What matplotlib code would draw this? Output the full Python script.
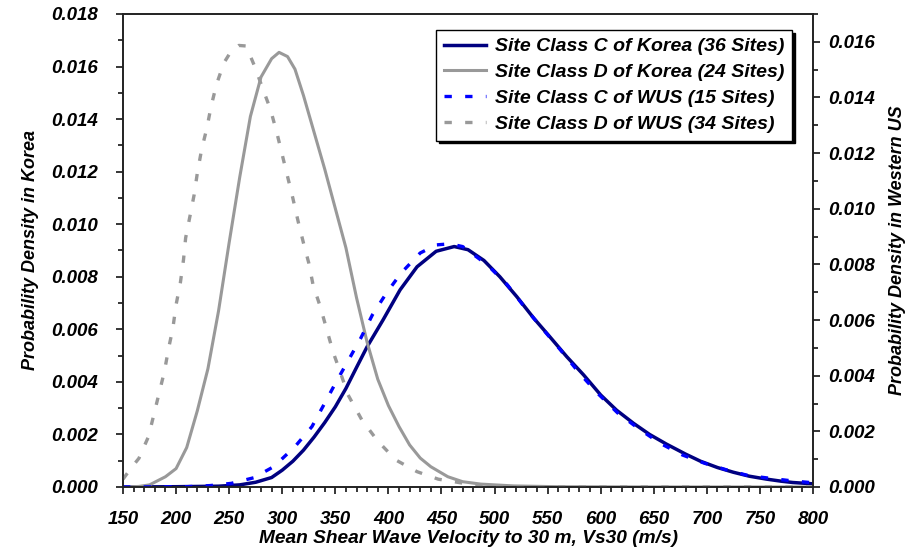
import numpy as np
import matplotlib
matplotlib.use("Agg")
import matplotlib.pyplot as plt
from matplotlib.ticker import MultipleLocator, FormatStrFormatter

# Site class C of Korea (36 sites), left axis
vs_kc = [150, 200, 240, 260, 275, 290, 300, 310, 320, 330, 340, 350, 360, 370,
         380, 395, 411, 427, 445, 462, 475, 490, 505, 521, 537, 552, 568, 584,
         600, 615, 631, 646, 662, 680, 694, 710, 725, 740, 756, 770, 781, 800]
pd_kc = [0.0, 0.00001, 0.00003, 0.00008, 0.00018, 0.00036, 0.00064, 0.00098,
         0.0014, 0.0019, 0.00245, 0.00305, 0.00375, 0.00455, 0.00534, 0.00636,
         0.0075, 0.00838, 0.00897, 0.00915, 0.00903, 0.00862, 0.0080, 0.00724,
         0.00642, 0.00572, 0.00496, 0.00426, 0.0035, 0.00292, 0.00242, 0.002,
         0.00163, 0.00125, 0.00098, 0.00074, 0.00056, 0.00041, 0.0003,
         0.00022, 0.00017, 0.00012]

# Site class D of Korea (24 sites), left axis
vs_kd = [150, 165, 175, 190, 200, 210, 220, 230, 240, 250, 260, 270, 280, 290,
         297, 305, 312, 320, 330, 340, 350, 360, 370, 380, 390, 400, 410, 420,
         430, 440, 456, 470, 487, 518, 560, 650, 800]
pd_kd = [0.0, 0.00002, 0.00008, 0.00039, 0.0007, 0.0015, 0.0029, 0.0045,
         0.0067, 0.0093, 0.0118, 0.0141, 0.0156, 0.0163, 0.01654, 0.01638,
         0.0159, 0.0149, 0.0135, 0.0121, 0.0106, 0.0091, 0.0072, 0.0055,
         0.0041, 0.0031, 0.0023, 0.0016, 0.0011, 0.00077, 0.00039, 0.0002,
         0.00011, 0.00004, 0.00001, 0.0, 0.0]

# Site class C of WUS (15 sites), right axis
vs_wc = [150, 210, 232, 252, 273, 292, 312, 328, 340, 351, 363, 374, 385, 398,
         412, 430, 445, 458, 470, 493, 512, 529, 546, 562, 580, 597, 616, 636,
         656, 677, 698, 719, 739, 760, 780, 800]
pd_wc = [0.0, 0.00001, 0.00005, 0.00013, 0.00033, 0.00073, 0.00145, 0.00217,
         0.00301, 0.00379, 0.0046, 0.00535, 0.00619, 0.00696, 0.00769,
         0.00841, 0.0087, 0.00874, 0.00864, 0.00799, 0.00727, 0.00643,
         0.00565, 0.00493, 0.00409, 0.00337, 0.00266, 0.00209, 0.00157,
         0.00115, 0.00085, 0.00061, 0.00041, 0.00031, 0.00022, 0.00015]

# Site class D of WUS (34 sites), right axis
vs_wd = [150, 158, 165, 174, 179, 184, 189, 193, 197, 200, 204, 207, 209, 213,
         217, 220, 224, 229, 233, 238, 245, 252, 259, 266, 274, 282, 289, 295,
         300, 305, 310, 315, 320, 325, 329, 336, 342, 348, 355, 362, 375, 390,
         407, 427, 447, 468, 489, 520, 600, 800]
pd_wd = [0.00028, 0.0007, 0.00103, 0.00181, 0.00259, 0.00337, 0.00415,
         0.00499, 0.00571, 0.00655, 0.00733, 0.00817, 0.00895, 0.00972, 0.0105,
         0.01128, 0.01212, 0.0129, 0.01368, 0.01446, 0.01524, 0.01567, 0.01587,
         0.01585, 0.01512, 0.01428, 0.01356, 0.01272, 0.01194, 0.01116,
         0.01038, 0.00954, 0.00877, 0.00805, 0.00727, 0.00646, 0.00565,
         0.00484, 0.00409, 0.00331, 0.00241, 0.00165, 0.00097, 0.00055,
         0.00028, 0.00015, 0.00005, 0.00001, 0.0, 0.0]

labels = ["Site Class C of Korea (36 Sites)", "Site Class D of Korea (24 Sites)",
          "Site Class C of WUS (15 Sites)", "Site Class D of WUS (34 Sites)"]

plt.rcParams['font.family'] = ['Liberation Sans', 'DejaVu Sans']
plt.rcParams['font.weight'] = 'bold'
plt.rcParams['font.style'] = 'italic'
plt.rcParams['axes.labelweight'] = 'bold'

fig = plt.figure(figsize=(9.2, 5.51), dpi=100)
ax = fig.add_axes([0.1337, 0.1162, 0.75, 0.8584])
ax2 = ax.twinx()

dash = (0, (2.2, 4))
l1, = ax.plot(vs_kc, pd_kc, color='#000080', lw=2.5, label=labels[0])
l2, = ax.plot(vs_kd, pd_kd, color='#999999', lw=2.2, label=labels[1])
l3, = ax2.plot(vs_wc, pd_wc, color='#0000FF', lw=2.4, ls=dash, label=labels[2])
l4, = ax2.plot(vs_wd, pd_wd, color='#999999', lw=2.4, ls=dash, label=labels[3])

ax.set_xlim(150, 800)
ax.set_ylim(0, 0.018)
ax2.set_ylim(0, 0.017)

ax.xaxis.set_major_locator(MultipleLocator(50))
ax.xaxis.set_minor_locator(MultipleLocator(10))
ax.yaxis.set_major_locator(MultipleLocator(0.002))
ax.yaxis.set_minor_locator(MultipleLocator(0.001))
ax2.yaxis.set_major_locator(MultipleLocator(0.002))
ax2.yaxis.set_minor_locator(MultipleLocator(0.001))
ax.yaxis.set_major_formatter(FormatStrFormatter('%.3f'))
ax2.yaxis.set_major_formatter(FormatStrFormatter('%.3f'))

for a in (ax, ax2):
    a.tick_params(which='major', direction='out', length=5, width=1.1,
                  labelsize=13.5)
    a.tick_params(which='minor', direction='out', length=3.5, width=1.1)
    for s in a.spines.values():
        s.set_linewidth(1.2)
        s.set_color('#222222')
ax.tick_params(axis='x', which='major', pad=12)
ax.tick_params(axis='y', which='major', pad=13)
ax2.tick_params(axis='y', which='major', pad=6)

ax.set_xlabel("Mean Shear Wave Velocity to 30 m, Vs30 (m/s)", fontsize=13.8,
              labelpad=2)
ax.set_ylabel("Probability Density in Korea", fontsize=13, labelpad=9)
ax2.set_ylabel("Probability Density in Western US", fontsize=13, labelpad=10)

leg = ax2.legend([l1, l2, l3, l4], labels, loc='upper right',
                 bbox_to_anchor=(0.97, 0.966), borderaxespad=0,
                 fancybox=False, framealpha=1, edgecolor='black',
                 shadow={'color': 'black', 'alpha': 1},
                 handlelength=2.2, handletextpad=0.45, fontsize=14,
                 labelspacing=0.42, borderpad=0.4)
leg.get_frame().set_linewidth(1.0)

fig.savefig("out.png", dpi=100)
